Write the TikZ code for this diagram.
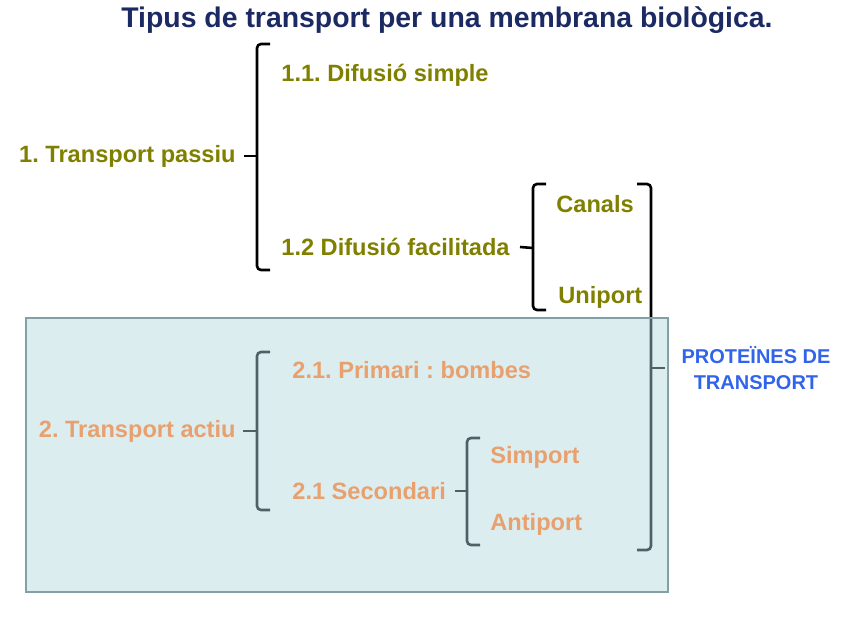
\documentclass[tikz,border=0pt]{standalone}
\usepackage{fontspec}
\setmainfont{Liberation Sans}
\usetikzlibrary{positioning,calc}
\definecolor{navy}{RGB}{28,42,100}
\definecolor{oliva}{RGB}{128,128,0}
\definecolor{taronja}{RGB}{232,160,110}
\definecolor{blau}{RGB}{50,100,235}
\definecolor{caixa}{RGB}{178,215,222}
\definecolor{vora}{RGB}{130,160,165}
\pgfdeclarelayer{fons}
\pgfdeclarelayer{capa}
\pgfsetlayers{fons,capa,main}
\frenchspacing
% bracket: x, top, bottom
\newcommand{\clau}[3]{\draw[clau] (#1+13,#2) -- (#1,#2) -- (#1,#3) -- (#1+13,#3);}

\begin{document}
\begin{tikzpicture}[x=0.5pt,y=-0.5pt,
      pas/.style={font=\bfseries\fontsize{11.8}{14}\selectfont,text=oliva,inner sep=0pt},
      act/.style={font=\bfseries\fontsize{11.8}{14}\selectfont,text=taronja,inner sep=0pt},
      prot/.style={font=\bfseries\fontsize{10}{13}\selectfont,text=blau,align=center,inner sep=0pt},
      clau/.style={line width=1.3pt,rounded corners=2pt},
      tick/.style={line width=1.3pt}
    ]
      \useasboundingbox (0,0) rectangle (848,636);
      \node[font=\bfseries\fontsize{14.2}{17}\selectfont,text=navy] (titol) at (447,20) {Tipus de transport per una membrana biològica.};
      \node[pas,anchor=east] (tpas) at (236,156) {1. Transport passiu};
      \node[pas,anchor=west] (dsim) at (281,75) {1.1. Difusió simple};
      \node[pas,anchor=west] (dfac) at (281,247) {1.2 Difusió facilitada};
      \node[pas,anchor=west] (can) at (556,204) {Canals};
      \node[pas,anchor=west] (uni) at (558,297) {Uniport};
      \node[act,anchor=east] (tact) at (236,431) {2. Transport actiu};
      \node[act,anchor=west] (prim) at (292,370) {2.1. Primari : bombes};
      \node[act,anchor=west] (sec) at (292,491) {2.1 Secondari};
      \node[act,anchor=west] (sim) at (490,457) {Simport};
      \node[act,anchor=west] (anti) at (490,524) {Antiport};
      \node[prot] (prot) at (756,368) {PROTEÏNES DE\\TRANSPORT};
      \coordinate (c1) at (257,156);
      \coordinate (c2) at (533,248);
      \coordinate (c3) at (257,431);
      \coordinate (c4) at (467,491);
      \coordinate (c5) at (651,368);
      \begin{pgfonlayer}{fons}
        \clau{257}{44}{270}
        \clau{533}{184}{310}
        \clau{257}{352}{510}
        \clau{467}{438}{545}
        \draw[clau] (637,184) -- (651,184) -- (651,550) -- (637,550);
        \draw[tick] ($(tpas.east)+(8,0)$) -- (c1);
        \draw[tick] ($(dfac.east)+(10,0)$) -- (c2);
        \draw[tick] ($(tact.east)+(7,0)$) -- (c3);
        \draw[tick] ($(sec.east)+(9,0)$) -- (c4);
        \draw[tick] (c5) -- ($(prot.west)+(-16,0)$);
      \end{pgfonlayer}
      \begin{pgfonlayer}{capa}
        \draw[vora,line width=1pt,fill=caixa,fill opacity=0.45] (26,318) rectangle (668,592);
      \end{pgfonlayer}
    \end{tikzpicture}
\end{document}
